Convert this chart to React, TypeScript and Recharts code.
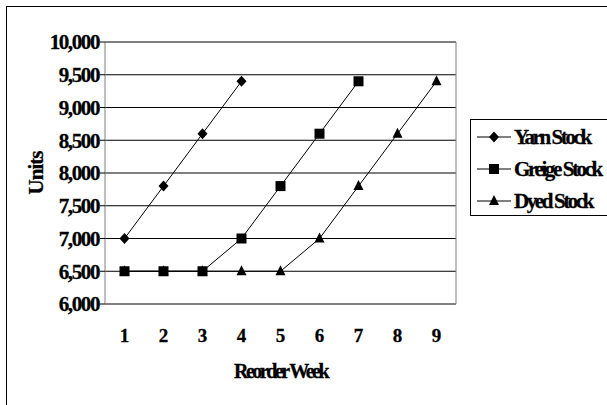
import React from "react";
import { LineChart, Line, XAxis, YAxis, CartesianGrid, ReferenceLine } from "recharts";

const weeks = [1, 2, 3, 4, 5, 6, 7, 8, 9];
const yarnStock = [7000, 7800, 8600, 9400, null, null, null, null, null];
const greigeStock = [6500, 6500, 6500, 7000, 7800, 8600, 9400, null, null];
const dyedStock = [6500, 6500, 6500, 6500, 6500, 7000, 7800, 8600, 9400];
const unitTicks = [6000, 6500, 7000, 7500, 8000, 8500, 9000, 9500, 10000];

const data = weeks.map((week, i) => ({
  week,
  yarn: yarnStock[i],
  greige: greigeStock[i],
  dyed: dyedStock[i],
}));

// category boundaries, for the tick marks between the week labels
const weekEdges = [...weeks.map((w) => w - 0.5), weeks[weeks.length - 1] + 0.5];

const FONT = "'Liberation Serif', 'Times New Roman', serif";

type MarkProps = { cx?: number | null; cy?: number | null };

const Diamond = ({ cx, cy }: MarkProps) =>
  cx == null || cy == null ? null : (
    <polygon
      points={`${cx},${cy - 5.5} ${cx + 5},${cy} ${cx},${cy + 5.5} ${cx - 5},${cy}`}
      fill="#000"
    />
  );

const Square = ({ cx, cy }: MarkProps) =>
  cx == null || cy == null ? null : (
    <rect x={cx - 5} y={cy - 5} width={10} height={10} fill="#000" />
  );

const Triangle = ({ cx, cy }: MarkProps) =>
  cx == null || cy == null ? null : (
    <polygon
      points={`${cx},${cy - 6} ${cx + 5},${cy + 4} ${cx - 5},${cy + 4}`}
      fill="#000"
    />
  );

const series = [
  { key: "dyed", name: "Dyed Stock", Mark: Triangle },
  { key: "greige", name: "Greige Stock", Mark: Square },
  { key: "yarn", name: "Yarn Stock", Mark: Diamond },
];

const legendOrder = ["yarn", "greige", "dyed"];

const dotFor = (Mark: React.FC<MarkProps>) => (props: any) => (
  <g key={`${props.dataKey}-${props.index}`}>
    <Mark cx={props.cx} cy={props.cy} />
  </g>
);

const LegendBox = () => (
  <div
    style={{
      position: "absolute",
      left: 470,
      top: 119,
      width: 140,
      height: 97,
      border: "1px solid #000",
      boxSizing: "border-box",
      background: "#fff",
    }}
  >
    {legendOrder.map((k, i) => {
      const s = series.find((x) => x.key === k)!;
      return (
        <div
          key={k}
          style={{
            position: "absolute",
            left: 5,
            top: 5 + i * 32,
            height: 24,
            display: "flex",
            alignItems: "center",
          }}
        >
          <svg width={36} height={24}>
            <line x1={1} y1={12} x2={35} y2={12} stroke="#000" strokeWidth={1} />
            <s.Mark cx={18} cy={12} />
          </svg>
          <span
            style={{
              fontFamily: FONT,
              fontWeight: "bold",
              fontSize: 21,
              letterSpacing: -2.4,
              marginLeft: 2,
              whiteSpace: "nowrap",
              WebkitTextStroke: "0.3px #000",
            }}
          >
            {s.name}
          </span>
        </div>
      );
    })}
  </div>
);

const UnitsLabel = (props: any) => {
  const { viewBox } = props;
  const cx = 36;
  const cy = viewBox.y + viewBox.height / 2;
  return (
    <text
      x={cx}
      y={cy}
      transform={`rotate(-90 ${cx} ${cy})`}
      textAnchor="middle"
      dominantBaseline="central"
      fontFamily={FONT}
      fontWeight="bold"
      fontSize={21}
      letterSpacing={-1}
      stroke="#000"
      strokeWidth={0.3}
      fill="#000"
    >
      Units
    </text>
  );
};

const WeekLabel = (props: any) => {
  const { viewBox } = props;
  return (
    <text
      x={viewBox.x + viewBox.width / 2}
      y={378}
      textAnchor="middle"
      fontFamily={FONT}
      fontWeight="bold"
      fontSize={20}
      letterSpacing={-2.5}
      stroke="#000"
      strokeWidth={0.3}
      fill="#000"
    >
      Reorder Week
    </text>
  );
};

export default function App() {
  return (
    <div
      style={{
        position: "absolute",
        left: 0,
        top: 0,
        width: 607,
        height: 405,
        overflow: "hidden",
        background: "#fff",
      }}
    >
      <div
        style={{
          position: "absolute",
          left: 6,
          top: 6,
          width: 700,
          height: 500,
          border: "1.5px solid #000",
        }}
      />
      <div style={{ position: "absolute", left: 0, top: 0 }}>
        <LineChart
          width={607}
          height={405}
          data={data}
          margin={{ top: 42, right: 151, left: 45, bottom: 21 }}
        >
          <CartesianGrid vertical={false} stroke="#000" strokeWidth={1} yAxisId="units" xAxisId="edges" />
          <XAxis
            xAxisId="edges"
            dataKey="week"
            type="number"
            domain={[weekEdges[0], weekEdges[weekEdges.length - 1]]}
            ticks={weekEdges}
            height={0}
            tick={() => <g />}
            tickSize={6}
            axisLine={{ stroke: "#000" }}
            tickLine={{ stroke: "#000" }}
            allowDataOverflow
          />
          <XAxis
            xAxisId="labels"
            dataKey="week"
            type="number"
            domain={[weekEdges[0], weekEdges[weekEdges.length - 1]]}
            ticks={weeks}
            height={80}
            axisLine={false}
            tickLine={false}
            tickSize={0}
            tickMargin={25}
            tick={{ fill: "#000", stroke: "#000", strokeWidth: 0.3, fontFamily: FONT, fontWeight: "bold", fontSize: 19 }}
            label={<WeekLabel />}
          />
          <YAxis
            yAxisId="units"
            width={60}
            domain={[6000, 10000]}
            ticks={unitTicks}
            tickFormatter={(v: number) => v.toLocaleString("en-US")}
            tickSize={5}
            tickMargin={1}
            axisLine={{ stroke: "#808080" }}
            tickLine={{ stroke: "#000" }}
            tick={{ fill: "#000", stroke: "#000", strokeWidth: 0.3, fontFamily: FONT, fontWeight: "bold", fontSize: 21, letterSpacing: -1.4 }}
            label={<UnitsLabel />}
          />
          <ReferenceLine yAxisId="units" xAxisId="edges" y={10000} stroke="#808080" />
          <ReferenceLine
            yAxisId="units"
            xAxisId="edges"
            x={weekEdges[weekEdges.length - 1]}
            stroke="#808080"
          />
          {series.map((s) => (
            <Line
              key={s.key}
              xAxisId="edges"
              yAxisId="units"
              dataKey={s.key}
              name={s.name}
              type="linear"
              stroke="#000"
              strokeWidth={1}
              dot={dotFor(s.Mark)}
              activeDot={false}
              isAnimationActive={false}
            />
          ))}
        </LineChart>
      </div>
      <LegendBox />
    </div>
  );
}
